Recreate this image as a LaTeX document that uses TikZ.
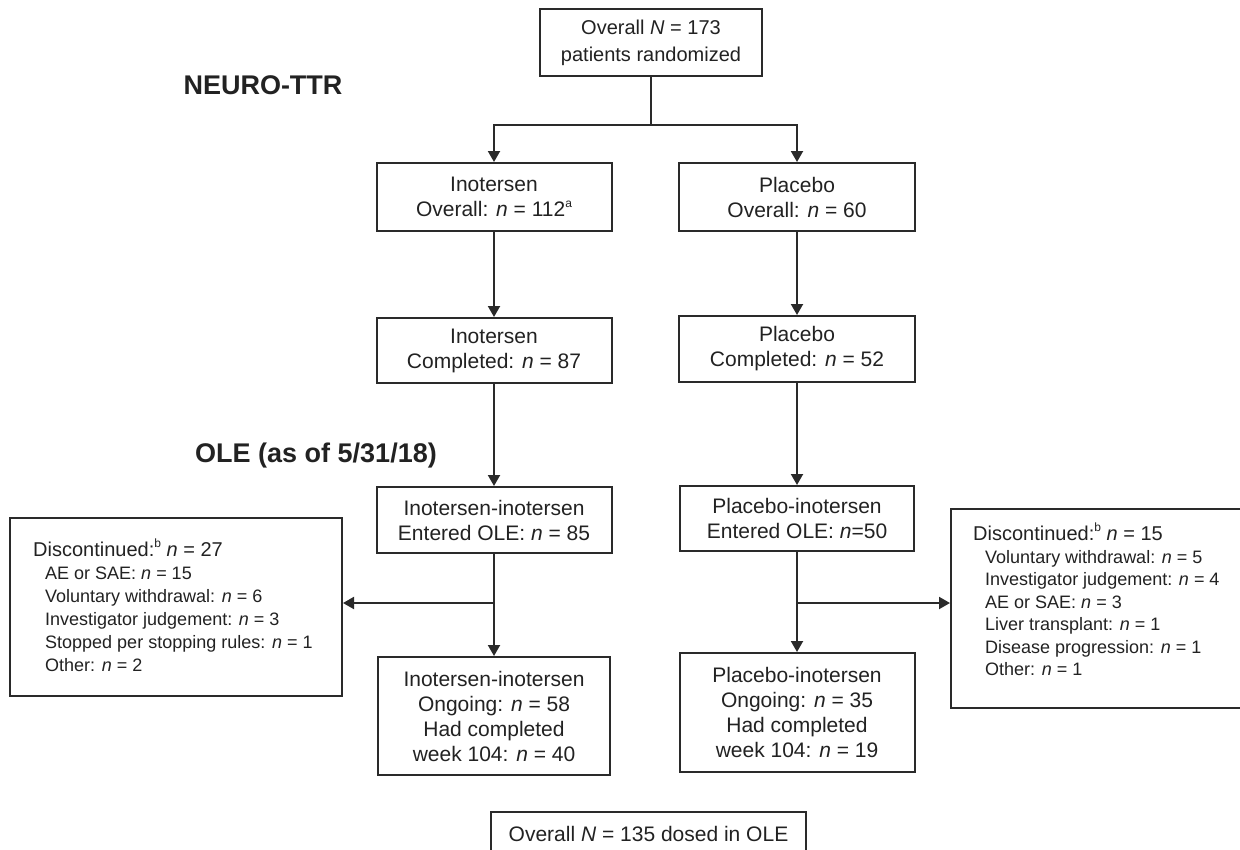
\documentclass[tikz,border=0pt]{standalone}
\usepackage{fontspec}
\setmainfont{Liberation Sans}
\usetikzlibrary{arrows.meta}
\definecolor{ink}{HTML}{222222}
\definecolor{edge}{HTML}{2A2A2A}
\newcommand{\supmark}[1]{\raisebox{0.45em}{\fontsize{12}{12}\selectfont #1}}
\begin{document}
\begin{tikzpicture}[x=1pt,y=-1pt,
  box/.style={draw=edge, line width=2pt, fill=white, align=center, inner sep=0pt, text=ink, font=\fontsize{21}{25}\selectfont},
  arr/.style={draw=edge, line width=2pt, -{Triangle[length=11pt,width=12pt]}},
  ln/.style={draw=edge, line width=2pt},
  title/.style={font=\fontsize{27}{32}\selectfont\bfseries, text=ink, inner sep=0pt},
  listtext/.style={anchor=north west, align=left, inner sep=0pt, text=ink, font=\fontsize{18}{23}\selectfont}]
\useasboundingbox (0,0) rectangle (1240,849);

% titles
\node[title] (neuro) at (263,85) {NEURO-TTR};
\node[title] (ole) at (316,456) {OLE (as of 5/31/18)};

% boxes
\node[box, minimum width=222pt, minimum height=67pt, font=\fontsize{20}{27}\selectfont] (top) at (651,42.5) {Overall \textit{N} = 173\\patients randomized};

\node[box, minimum width=235pt, minimum height=68pt] (ino1) at (494,197) {Inotersen\\Overall: \textit{n} = 112\supmark{a}};
\node[box, minimum width=236pt, minimum height=68pt] (pla1) at (797,197) {Placebo\\Overall: \textit{n} = 60};

\node[box, minimum width=235pt, minimum height=65pt] (ino2) at (494,350.5) {Inotersen\\Completed: \textit{n} = 87};
\node[box, minimum width=236pt, minimum height=66pt] (pla2) at (797,349) {Placebo\\Completed: \textit{n} = 52};

\node[box, minimum width=235pt, minimum height=66pt] (ino3) at (494,520) {Inotersen-inotersen\\Entered OLE: \textit{n} = 85};
\node[box, minimum width=234pt, minimum height=65pt] (pla3) at (797,518.5) {Placebo-inotersen\\Entered OLE: \textit{n}=50};

\node[box, minimum width=232pt, minimum height=118pt] (ino4) at (494,716) {Inotersen-inotersen\\Ongoing: \textit{n} = 58\\Had completed\\week 104: \textit{n} = 40};
\node[box, minimum width=235pt, minimum height=119pt] (pla4) at (797,712.5) {Placebo-inotersen\\Ongoing: \textit{n} = 35\\Had completed\\week 104: \textit{n} = 19};

% discontinued boxes
\node[box, minimum width=332pt, minimum height=178pt] (discL) at (176,607) {};
\node[listtext] (discLt) at (45,539) {\hspace*{-12pt}{\fontsize{20}{23}\selectfont Discontinued:\supmark{b} \textit{n} = 27}\\
AE or SAE: \textit{n} = 15\\
Voluntary withdrawal: \textit{n} = 6\\
Investigator judgement: \textit{n} = 3\\
Stopped per stopping rules: \textit{n} = 1\\
Other: \textit{n} = 2};

\node[box, minimum width=300pt, minimum height=199pt] (discR) at (1101,608.5) {};
\node[listtext, font=\fontsize{18}{22.5}\selectfont] (discRt) at (985,523) {\hspace*{-12pt}{\fontsize{20}{23}\selectfont Discontinued:\supmark{b} \textit{n} = 15}\\
Voluntary withdrawal: \textit{n} = 5\\
Investigator judgement: \textit{n} = 4\\
AE or SAE: \textit{n} = 3\\
Liver transplant: \textit{n} = 1\\
Disease progression: \textit{n} = 1\\
Other: \textit{n} = 1};

% bottom total
\node[box, minimum width=315pt, minimum height=50pt] (total) at (648.5,837) {\raisebox{6pt}{Overall \textit{N} = 135 dosed in OLE}};

% connectors
\coordinate (split) at (651,125);
\draw[ln] (top.south) -- (split);
\draw[arr] (split) -| (ino1.north);
\draw[arr] (split) -| (pla1.north);
\draw[arr] (ino1.south) -- (ino2.north);
\draw[arr] (pla1.south) -- (pla2.north);
\draw[arr] (ino2.south) -- (ino3.north);
\draw[arr] (pla2.south) -- (pla3.north);
\draw[arr] (ino3.south) -- (ino4.north);
\draw[arr] (pla3.south) -- (pla4.north);
\coordinate (bL) at (494,603);
\draw[arr] (bL) -- (bL -| discL.east);
\coordinate (bR) at (797,603);
\draw[arr] (bR) -- (bR -| discR.west);
\end{tikzpicture}
\end{document}
